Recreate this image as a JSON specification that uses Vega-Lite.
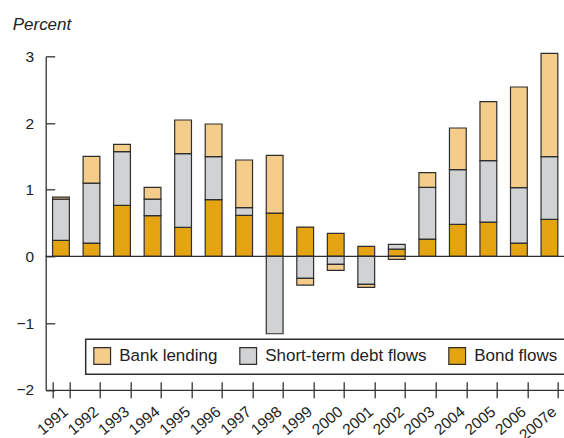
{
  "$schema": "https://vega.github.io/schema/vega-lite/v6.json",
  "width": 519,
  "height": 333.5,
  "autosize": {"type": "none"},
  "padding": {"left": 45.7, "top": 56.3, "right": 0, "bottom": 48.2},
  "background": "white",
  "title": {
    "text": "Percent",
    "anchor": "start",
    "frame": "group",
    "font": "Liberation Sans",
    "fontSize": 17,
    "fontStyle": "italic",
    "fontWeight": "normal",
    "color": "#222222",
    "baseline": "alphabetic",
    "dx": -33,
    "offset": 2
  },
  "config": {
    "view": {"stroke": null},
    "font": "Liberation Sans",
    "axis": {"labelFont": "Liberation Sans", "labelColor": "#222222", "domainColor": "#333333", "tickColor": "#333333", "domainWidth": 1.3, "tickWidth": 1.3, "grid": false, "title": null},
    "legend": {"labelFont": "Liberation Sans"}
  },
  "data": {
    "values": [
      {"year": "1991", "Bond flows": 0.24, "Short-term debt flows": 0.62, "Bank lending": 0.03},
      {"year": "1992", "Bond flows": 0.20, "Short-term debt flows": 0.90, "Bank lending": 0.40},
      {"year": "1993", "Bond flows": 0.765, "Short-term debt flows": 0.805, "Bank lending": 0.11},
      {"year": "1994", "Bond flows": 0.61, "Short-term debt flows": 0.25, "Bank lending": 0.175},
      {"year": "1995", "Bond flows": 0.435, "Short-term debt flows": 1.105, "Bank lending": 0.505},
      {"year": "1996", "Bond flows": 0.85, "Short-term debt flows": 0.645, "Bank lending": 0.49},
      {"year": "1997", "Bond flows": 0.615, "Short-term debt flows": 0.115, "Bank lending": 0.715},
      {"year": "1998", "Bond flows": 0.65, "Short-term debt flows": -1.16, "Bank lending": 0.865},
      {"year": "1999", "Bond flows": 0.44, "Short-term debt flows": -0.33, "Bank lending": -0.10},
      {"year": "2000", "Bond flows": 0.345, "Short-term debt flows": -0.12, "Bank lending": -0.09},
      {"year": "2001", "Bond flows": 0.15, "Short-term debt flows": -0.42, "Bank lending": -0.045},
      {"year": "2002", "Bond flows": 0.11, "Short-term debt flows": 0.07, "Bank lending": -0.045},
      {"year": "2003", "Bond flows": 0.26, "Short-term debt flows": 0.775, "Bank lending": 0.22},
      {"year": "2004", "Bond flows": 0.48, "Short-term debt flows": 0.82, "Bank lending": 0.625},
      {"year": "2005", "Bond flows": 0.515, "Short-term debt flows": 0.92, "Bank lending": 0.885},
      {"year": "2006", "Bond flows": 0.20, "Short-term debt flows": 0.83, "Bank lending": 1.51},
      {"year": "2007e", "Bond flows": 0.555, "Short-term debt flows": 0.94, "Bank lending": 1.55}
    ]
  },
  "transform": [
    {"fold": ["Bond flows", "Short-term debt flows", "Bank lending"], "as": ["series", "value"]},
    {"calculate": "indexof(['Bond flows', 'Short-term debt flows', 'Bank lending'], datum.series)", "as": "stackOrder"}
  ],
  "layer": [
    {
      "mark": {"type": "bar", "stroke": "#2e2e2e", "strokeWidth": 1.2},
      "encoding": {
        "x": {
          "field": "year", "type": "nominal", "sort": null,
          "scale": {"paddingInner": 0.45, "paddingOuter": 0.225},
          "axis": {"orient": "bottom", "labelAngle": -40, "labelFontSize": 15.5, "tickBand": "extent", "tickSize": 8, "labelPadding": 6}
        },
        "y": {
          "field": "value", "type": "quantitative", "stack": "zero",
          "scale": {"domain": [-2, 3], "nice": false},
          "axis": {"values": [-2, -1, 0, 1, 2, 3], "format": "d", "tickSize": -9, "labelFontSize": 15.5, "labelPadding": 21}
        },
        "color": {
          "field": "series", "type": "nominal",
          "scale": {"domain": ["Bank lending", "Short-term debt flows", "Bond flows"], "range": ["#F4CD8A", "#D1D2D4", "#E5A412"]},
          "legend": {
            "title": null, "orient": "none", "legendX": 40, "legendY": 283, "direction": "horizontal",
            "symbolType": "square", "symbolSize": 280, "symbolStrokeColor": "#2e2e2e", "symbolStrokeWidth": 1.2, "symbolOpacity": 1,
            "labelFontSize": 17, "labelColor": "#222222", "labelOffset": 8, "labelLimit": 400, "columnPadding": 19, "padding": 7.5,
            "strokeColor": "#2e2e2e", "fillColor": "white",
            "encode": {"legend": {"update": {"strokeWidth": {"value": 1.5}}}}
          }
        },
        "order": {"field": "stackOrder", "type": "quantitative"}
      }
    },
    {
      "mark": {"type": "bar", "opacity": 0},
      "encoding": {
        "x": {
          "field": "year", "type": "nominal", "sort": null,
          "axis": {"orient": "bottom", "labels": false, "domain": false, "tickBand": "extent", "tickSize": -8}
        }
      }
    },
    {
      "data": {"values": [{}]},
      "mark": {"type": "rule", "color": "#2e2e2e", "strokeWidth": 1.3},
      "encoding": {"y": {"datum": 0}}
    }
  ],
  "resolve": {"scale": {"x": "shared"}, "axis": {"x": "independent"}}
}
